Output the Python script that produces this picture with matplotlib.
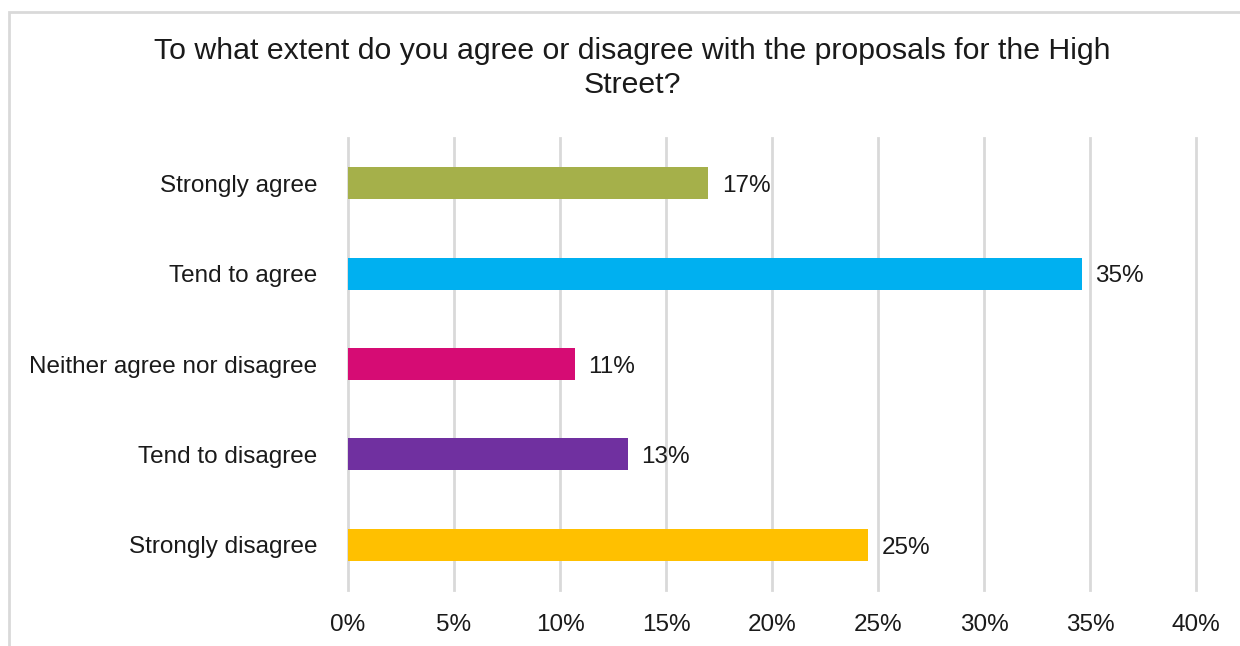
import matplotlib.pyplot as plt
from matplotlib.patches import Rectangle
from matplotlib.ticker import FuncFormatter, MultipleLocator

plt.rcParams['font.family'] = ['Liberation Sans', 'DejaVu Sans']

# survey responses (percent of respondents)
categories = ['Strongly agree', 'Tend to agree', 'Neither agree nor disagree',
              'Tend to disagree', 'Strongly disagree']
shares = [17.0, 34.6, 10.7, 13.2, 24.55]
colours = ['#a5b04a', '#00b0f0', '#d60c74', '#7030a0', '#ffc000']

title = 'To what extent do you agree or disagree with the proposals for the High\nStreet?'

fig = plt.figure(figsize=(12.4, 6.46), dpi=100)
ax = fig.add_axes([348 / 1240, 56 / 646, (1196 - 348) / 1240, (590 - 138) / 646])

ypos = list(range(len(categories)))
ax.barh(ypos, shares, height=0.355, color=colours, zorder=3)
for y, v in zip(ypos, shares):
    ax.text(v + 0.65, y + 0.03, '{:.0f}%'.format(v), va='center', ha='left',
            fontsize=17.5, color='#1a1a1a')

ax.set_yticks(ypos)
ax.set_yticklabels(categories, fontsize=17.5, color='#1a1a1a')
ax.set_ylim(len(categories) - 0.5, -0.5)
ax.set_xlim(0, 40)
ax.xaxis.set_major_locator(MultipleLocator(5))
ax.xaxis.set_major_formatter(FuncFormatter(lambda x, pos: '{:.0f}%'.format(x)))
ax.tick_params(axis='x', labelsize=17.5, colors='#1a1a1a', length=0, pad=17)
ax.tick_params(axis='y', length=0, pad=22)
ax.grid(axis='x', color='#d9d9d9', linewidth=2, zorder=0)
for gl in ax.get_xgridlines():
    gl.set_clip_on(False)
for s in ax.spines.values():
    s.set_visible(False)

fig.text(632 / 1240, 1 - 68 / 646, title, ha='center', va='center',
         fontsize=21.8, color='#1a1a1a', linespacing=1.3)

# outer chart frame
fig.patches.append(Rectangle((9 / 1240, -0.05), 1.1, 1 - 12 / 646 + 0.05,
                             transform=fig.transFigure, fill=False,
                             edgecolor='#d9d9d9', linewidth=2))

fig.savefig('out.png', dpi=100, facecolor='white')
